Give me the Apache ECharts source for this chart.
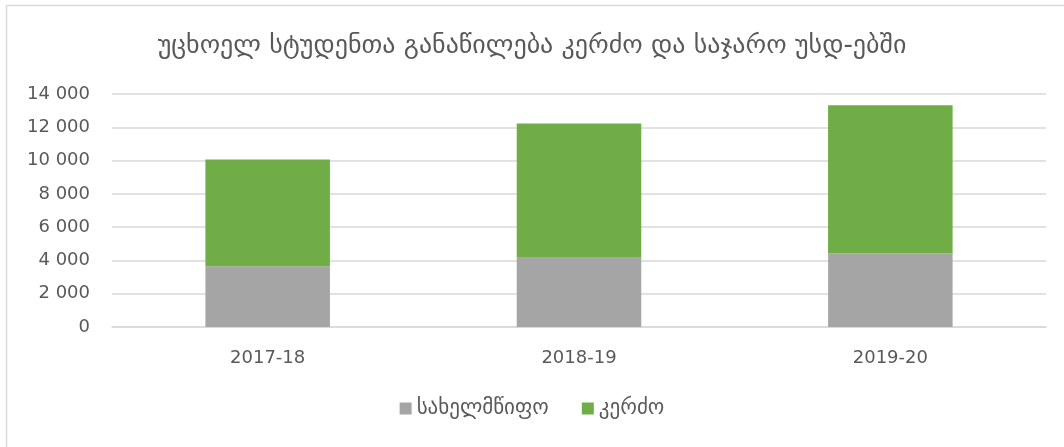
<!DOCTYPE html>
<html>
<head>
<meta charset="utf-8">
<script src="https://cdn.jsdelivr.net/npm/echarts@6/dist/echarts.min.js"></script>
<style>
  html, body { margin: 0; padding: 0; background: #fff; }
  #chart { width: 1064px; height: 447px; }
</style>
</head>
<body>
<div id="chart"></div>
<script>
// წლები
let years = ['2017-18', '2018-19', '2019-20'];
// სახელმწიფო უსდ-ები
let stateValues = [3650, 4200, 4410];
// კერძო უსდ-ები
let privateValues = [6410, 8020, 8910];

let seriesNames = ['სახელმწიფო', 'კერძო'];
let chartTitle = 'უცხოელ სტუდენთა განაწილება კერძო და საჯარო უსდ-ებში';

let font = "'DejaVu Sans', 'Noto Sans', sans-serif";
let textColor = '#595959';

let myChart = echarts.init(document.getElementById('chart'));
myChart.setOption({
  backgroundColor: '#ffffff',
  animation: false,
  graphic: [{
    type: 'rect',
    shape: { x: 6.5, y: 5.5, width: 1070, height: 460 },
    style: { fill: 'none', stroke: '#d9d9d9', lineWidth: 1.5 }
  }],
  title: {
    text: chartTitle,
    left: 'center',
    top: 28,
    textStyle: { color: textColor, fontSize: 26, fontWeight: 'normal', fontFamily: font }
  },
  grid: { left: 112, right: 18, top: 94, bottom: 120 },
  legend: {
    data: seriesNames,
    bottom: 23,
    left: 'center',
    icon: 'rect',
    itemWidth: 12,
    itemHeight: 12,
    itemGap: 33,
    textStyle: { color: textColor, fontSize: 21, fontFamily: font }
  },
  xAxis: {
    type: 'category',
    data: years,
    axisTick: { show: false },
    axisLine: { lineStyle: { color: '#d9d9d9', width: 1.5 } },
    axisLabel: { color: textColor, fontSize: 18, margin: 22, fontFamily: font }
  },
  yAxis: {
    type: 'value',
    min: 0,
    max: 14000,
    interval: 2000,
    axisLine: { show: false },
    axisTick: { show: false },
    splitLine: { lineStyle: { color: '#d9d9d9', width: 1.5 } },
    axisLabel: {
      color: textColor,
      fontSize: 18,
      margin: 22,
      fontFamily: font,
      formatter: function (v) {
        return String(v).replace(/\B(?=(\d{3})+(?!\d))/g, ' ');
      }
    }
  },
  series: [
    {
      name: seriesNames[0],
      type: 'bar',
      stack: 'total',
      barWidth: '40%',
      itemStyle: { color: '#a5a5a5' },
      data: stateValues
    },
    {
      name: seriesNames[1],
      type: 'bar',
      stack: 'total',
      barWidth: '40%',
      itemStyle: { color: '#70ad47' },
      data: privateValues
    }
  ]
});
</script>
</body>
</html>
